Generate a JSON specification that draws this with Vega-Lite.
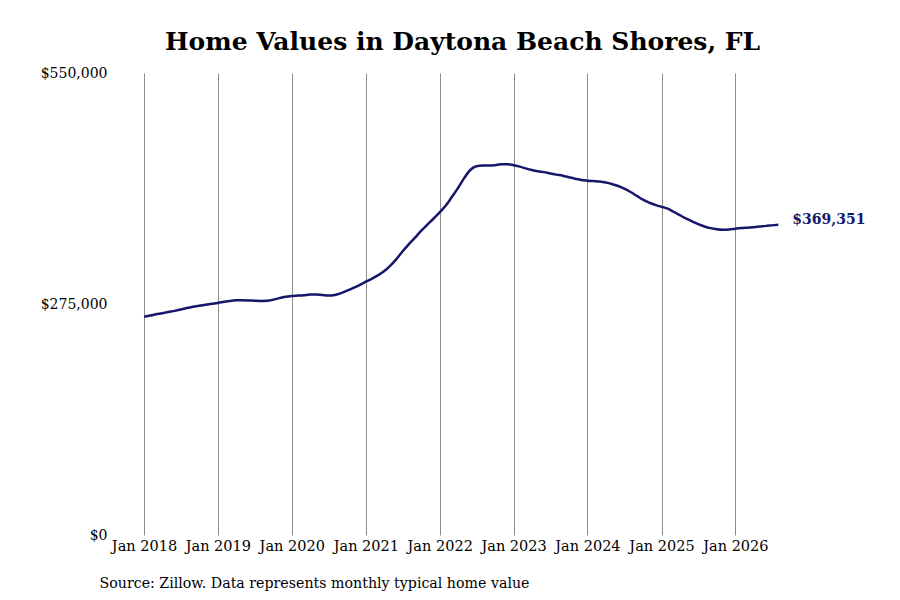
{
  "$schema": "https://vega.github.io/schema/vega-lite/v6.json",
  "autosize": {"type": "none"},
  "width": 659,
  "height": 462,
  "padding": {"left": 144, "top": 73, "right": 97, "bottom": 65},
  "background": "white",
  "title": {
    "text": "Home Values in Daytona Beach Shores, FL",
    "font": "DejaVu Serif",
    "fontSize": 25,
    "fontWeight": "bold",
    "color": "#000000",
    "anchor": "middle",
    "dx": -11,
    "offset": 11
  },
  "config": {
    "view": {"stroke": null},
    "font": "DejaVu Serif"
  },
  "data": {
    "values": [
      {"date": "2018-01-01", "value": 259900},
      {"date": "2018-02-01", "value": 261200},
      {"date": "2018-03-01", "value": 262700},
      {"date": "2018-04-01", "value": 264000},
      {"date": "2018-05-01", "value": 265500},
      {"date": "2018-06-01", "value": 266800},
      {"date": "2018-07-01", "value": 268500},
      {"date": "2018-08-01", "value": 270200},
      {"date": "2018-09-01", "value": 271700},
      {"date": "2018-10-01", "value": 273000},
      {"date": "2018-11-01", "value": 274200},
      {"date": "2018-12-01", "value": 275200},
      {"date": "2019-01-01", "value": 276300},
      {"date": "2019-02-01", "value": 277600},
      {"date": "2019-03-01", "value": 278700},
      {"date": "2019-04-01", "value": 279400},
      {"date": "2019-05-01", "value": 279500},
      {"date": "2019-06-01", "value": 279300},
      {"date": "2019-07-01", "value": 278900},
      {"date": "2019-08-01", "value": 278600},
      {"date": "2019-09-01", "value": 278800},
      {"date": "2019-10-01", "value": 280000},
      {"date": "2019-11-01", "value": 282000},
      {"date": "2019-12-01", "value": 283600},
      {"date": "2020-01-01", "value": 284500},
      {"date": "2020-02-01", "value": 285000},
      {"date": "2020-03-01", "value": 285500},
      {"date": "2020-04-01", "value": 286200},
      {"date": "2020-05-01", "value": 286300},
      {"date": "2020-06-01", "value": 285600},
      {"date": "2020-07-01", "value": 285000},
      {"date": "2020-08-01", "value": 285800},
      {"date": "2020-09-01", "value": 288000},
      {"date": "2020-10-01", "value": 291000},
      {"date": "2020-11-01", "value": 294200},
      {"date": "2020-12-01", "value": 297600},
      {"date": "2021-01-01", "value": 301600},
      {"date": "2021-02-01", "value": 305200},
      {"date": "2021-03-01", "value": 309000},
      {"date": "2021-04-01", "value": 314000},
      {"date": "2021-05-01", "value": 320500},
      {"date": "2021-06-01", "value": 328500},
      {"date": "2021-07-01", "value": 337500},
      {"date": "2021-08-01", "value": 346000},
      {"date": "2021-09-01", "value": 354000},
      {"date": "2021-10-01", "value": 362000},
      {"date": "2021-11-01", "value": 369500},
      {"date": "2021-12-01", "value": 376500},
      {"date": "2022-01-01", "value": 384000},
      {"date": "2022-02-01", "value": 392500},
      {"date": "2022-03-01", "value": 402000},
      {"date": "2022-04-01", "value": 413000},
      {"date": "2022-05-01", "value": 424500},
      {"date": "2022-06-01", "value": 434500},
      {"date": "2022-07-01", "value": 439000},
      {"date": "2022-08-01", "value": 439800},
      {"date": "2022-09-01", "value": 439800},
      {"date": "2022-10-01", "value": 440300},
      {"date": "2022-11-01", "value": 441300},
      {"date": "2022-12-01", "value": 441300},
      {"date": "2023-01-01", "value": 440300},
      {"date": "2023-02-01", "value": 438500},
      {"date": "2023-03-01", "value": 436500},
      {"date": "2023-04-01", "value": 434500},
      {"date": "2023-05-01", "value": 433000},
      {"date": "2023-06-01", "value": 432000},
      {"date": "2023-07-01", "value": 430500},
      {"date": "2023-08-01", "value": 429000},
      {"date": "2023-09-01", "value": 427700},
      {"date": "2023-10-01", "value": 426000},
      {"date": "2023-11-01", "value": 424200},
      {"date": "2023-12-01", "value": 422600},
      {"date": "2024-01-01", "value": 421800},
      {"date": "2024-02-01", "value": 421300},
      {"date": "2024-03-01", "value": 420800},
      {"date": "2024-04-01", "value": 419600},
      {"date": "2024-05-01", "value": 417800},
      {"date": "2024-06-01", "value": 415500},
      {"date": "2024-07-01", "value": 412300},
      {"date": "2024-08-01", "value": 408300},
      {"date": "2024-09-01", "value": 403700},
      {"date": "2024-10-01", "value": 399200},
      {"date": "2024-11-01", "value": 395600},
      {"date": "2024-12-01", "value": 393000},
      {"date": "2025-01-01", "value": 390700},
      {"date": "2025-02-01", "value": 388500},
      {"date": "2025-03-01", "value": 384800},
      {"date": "2025-04-01", "value": 380800},
      {"date": "2025-05-01", "value": 377000},
      {"date": "2025-06-01", "value": 373500},
      {"date": "2025-07-01", "value": 370000},
      {"date": "2025-08-01", "value": 367300},
      {"date": "2025-09-01", "value": 365300},
      {"date": "2025-10-01", "value": 364000},
      {"date": "2025-11-01", "value": 363400},
      {"date": "2025-12-01", "value": 363800},
      {"date": "2026-01-01", "value": 364700},
      {"date": "2026-02-01", "value": 365400},
      {"date": "2026-03-01", "value": 365900},
      {"date": "2026-04-01", "value": 366500},
      {"date": "2026-05-01", "value": 367200},
      {"date": "2026-06-01", "value": 368000},
      {"date": "2026-07-01", "value": 368600},
      {"date": "2026-08-01", "value": 369351}
    ]
  },
  "encoding": {
    "x": {
      "field": "date",
      "type": "temporal",
      "scale": {"domain": ["2018-01-01", "2026-12-01"], "nice": false},
      "axis": {
        "format": "%b %Y",
        "tickCount": {"interval": "year", "step": 1},
        "grid": true,
        "gridColor": "#8c8c8c",
        "gridWidth": 1,
        "gridOpacity": 1,
        "domain": false,
        "ticks": false,
        "labelPadding": 4,
        "labelFont": "DejaVu Serif",
        "labelFontSize": 14.5,
        "labelColor": "#000000",
        "labelFlush": false,
        "title": "Source: Zillow. Data represents monthly typical home value",
        "titleFont": "DejaVu Serif",
        "titleFontSize": 14.2,
        "titleFontWeight": "normal",
        "titleColor": "#000000",
        "titleAnchor": "start",
        "titleAlign": "left",
        "titleBaseline": "alphabetic",
        "titleX": -45,
        "titleY": 52
      }
    },
    "y": {
      "field": "value",
      "type": "quantitative",
      "scale": {"domain": [0, 550000], "nice": false},
      "axis": {
        "values": [0, 275000, 550000],
        "format": "$,.0f",
        "grid": false,
        "domain": false,
        "ticks": false,
        "labelPadding": 37,
        "labelFont": "DejaVu Serif",
        "labelFontSize": 14,
        "labelColor": "#000000",
        "labelFlush": false,
        "title": null
      }
    }
  },
  "layer": [
    {
      "mark": {"type": "line", "color": "#16166b", "strokeWidth": 2.5, "interpolate": "monotone"}
    },
    {
      "transform": [{"filter": "datum.value == 369351"}],
      "mark": {
        "type": "text",
        "align": "left",
        "baseline": "middle",
        "dx": 14,
        "dy": -5,
        "font": "DejaVu Serif",
        "fontSize": 14,
        "fontWeight": "bold",
        "color": "#16166b"
      },
      "encoding": {
        "text": {"field": "value", "type": "quantitative", "format": "$,.0f"}
      }
    }
  ]
}
